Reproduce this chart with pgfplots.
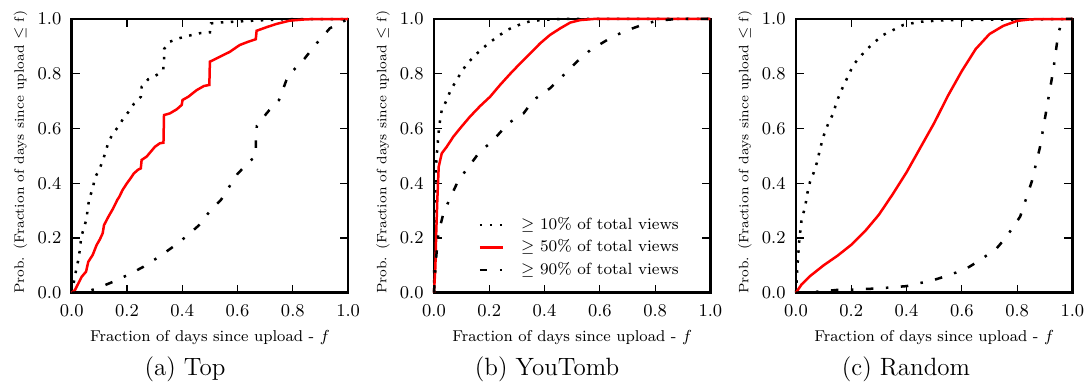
\documentclass[border=0pt]{standalone}
\usepackage{pgfplots}
\pgfplotsset{compat=1.18}
\begin{document}
\begin{tikzpicture}
\path[use as bounding box] (0,0) rectangle (544.5pt,192.5pt);
\pgfplotsset{
  cdf/.style={
    scale only axis, width=138.2pt, height=136.85pt,
    anchor=south west,
    xmin=0,xmax=1,ymin=0,ymax=1,
    xtick={0,0.2,0.4,0.6,0.8,1}, ytick={0,0.2,0.4,0.6,0.8,1},
    tick align=inside, major tick length=4pt,
    axis line style={line width=1.25pt},
    every tick/.style={black, line width=0.6pt},
    clip=false,
    tick label style={font=\fontsize{8.8}{10.5}\selectfont},
    xticklabel style={anchor=center, yshift=-9.2pt, /pgf/number format/.cd, fixed, fixed zerofill, precision=1},
    yticklabel style={anchor=east, inner sep=0pt, xshift=-5pt, /pgf/number format/.cd, fixed, fixed zerofill, precision=1},
    xlabel={Fraction of days since upload - $f$},
    ylabel={Prob. (Fraction of days since upload $\leq$ f)},
    every axis x label/.style={at={(axis description cs:0.5,-0.1765)}, anchor=base, font=\fontsize{7.85}{9.4}\selectfont},
    every axis y label/.style={at={(axis description cs:-0.1726,-0.03)}, anchor=base west, rotate=90, font=\fontsize{6.8}{8.2}\selectfont},
  },
  s10/.style={black, line width=1.25pt, dash pattern=on 1.25pt off 3.75pt},
  s50/.style={red, line width=1.25pt},
  s90/.style={black, line width=1.25pt, dash pattern=on 3.75pt off 6.25pt on 1.25pt off 6.25pt},
}
% (a) Top
\begin{axis}[cdf, at={(35.85pt,46.15pt)}]
\addplot[s10] coordinates {(0,0) (0.008,0.04) (0.016,0.083) (0.024,0.12) (0.03,0.16) (0.034,0.2) (0.042,0.23) (0.054,0.27) (0.058,0.31) (0.064,0.345) (0.076,0.38) (0.084,0.42) (0.1,0.45) (0.114,0.487) (0.124,0.52) (0.133,0.55) (0.148,0.58) (0.169,0.607) (0.187,0.637) (0.205,0.66) (0.225,0.69) (0.25,0.716) (0.253,0.752) (0.277,0.78) (0.307,0.795) (0.331,0.814) (0.334,0.85) (0.334,0.89) (0.355,0.917) (0.39,0.93) (0.428,0.94) (0.464,0.948) (0.5,0.951) (0.504,0.984) (0.536,0.987) (0.584,0.99) (0.66,0.994) (0.765,0.999) (1,1)};
\addplot[s50] coordinates {(0,0) (0.012,0.01) (0.024,0.034) (0.036,0.058) (0.052,0.077) (0.06,0.113) (0.076,0.138) (0.09,0.174) (0.102,0.195) (0.112,0.217) (0.117,0.247) (0.133,0.278) (0.15,0.308) (0.165,0.339) (0.172,0.35) (0.184,0.375) (0.2,0.4) (0.213,0.418) (0.225,0.436) (0.241,0.45) (0.25,0.454) (0.253,0.485) (0.271,0.497) (0.286,0.515) (0.301,0.533) (0.319,0.546) (0.332,0.548) (0.334,0.649) (0.355,0.655) (0.38,0.67) (0.398,0.686) (0.401,0.704) (0.422,0.716) (0.452,0.74) (0.478,0.755) (0.498,0.759) (0.5,0.844) (0.536,0.862) (0.572,0.88) (0.608,0.905) (0.639,0.917) (0.666,0.926) (0.669,0.957) (0.705,0.97) (0.741,0.982) (0.789,0.994) (0.85,0.999) (1,1)};
\addplot[s90] coordinates {(0,0) (0.05,0.003) (0.09,0.015) (0.15,0.04) (0.21,0.068) (0.26,0.095) (0.32,0.134) (0.37,0.17) (0.42,0.21) (0.46,0.246) (0.5,0.298) (0.54,0.339) (0.57,0.387) (0.6,0.434) (0.645,0.482) (0.666,0.497) (0.666,0.56) (0.67,0.61) (0.705,0.655) (0.715,0.667) (0.75,0.704) (0.777,0.777) (0.8,0.81) (0.843,0.856) (0.886,0.911) (0.934,0.966) (1,1)};
\end{axis}
% (b) YouTomb
\begin{axis}[cdf, at={(217pt,46.15pt)},
  legend cell align=left,
  legend image code/.code={\draw[#1] (0pt,0pt) -- (11.7pt,0pt);},
  legend style={at={(axis description cs:0.160,0.165)}, anchor=west, draw=none, fill=none,
    inner sep=0pt, row sep=1.05pt, column sep=7.3pt, font=\fontsize{8.1}{9.7}\selectfont,
    cells={anchor=west}, nodes={inner sep=1pt, text height=6.15pt, text depth=2.05pt}}]
\addplot[s10] coordinates {(0,0) (0.002,0.2) (0.004,0.34) (0.007,0.46) (0.012,0.53) (0.019,0.61) (0.028,0.667) (0.046,0.704) (0.06,0.74) (0.082,0.777) (0.1,0.808) (0.121,0.838) (0.149,0.868) (0.176,0.893) (0.205,0.917) (0.239,0.942) (0.269,0.962) (0.306,0.978) (0.342,0.99) (0.384,0.996) (0.457,1.0) (1,1)};
\addlegendentry{$\geq$ 10\% of total views}
\addplot[s50] coordinates {(0,0) (0.005,0.095) (0.008,0.217) (0.012,0.339) (0.017,0.46) (0.028,0.509) (0.046,0.533) (0.07,0.57) (0.094,0.6) (0.13,0.643) (0.167,0.682) (0.203,0.716) (0.239,0.759) (0.275,0.799) (0.312,0.838) (0.348,0.874) (0.384,0.911) (0.42,0.942) (0.457,0.966) (0.493,0.987) (0.529,0.996) (0.577,1) (1,1)};
\addlegendentry{$\geq$ 50\% of total views}
\addplot[s90] coordinates {(0,0) (0.007,0.12) (0.016,0.217) (0.034,0.29) (0.058,0.345) (0.088,0.41) (0.13,0.466) (0.161,0.509) (0.215,0.558) (0.269,0.619) (0.324,0.655) (0.36,0.704) (0.42,0.747) (0.469,0.795) (0.517,0.844) (0.565,0.886) (0.626,0.923) (0.686,0.954) (0.752,0.978) (0.807,0.994) (0.879,1) (1,1)};
\addlegendentry{$\geq$ 90\% of total views}
\end{axis}
% (c) Random
\begin{axis}[cdf, at={(398pt,46.15pt)}]
\addplot[s10] coordinates {(0,0) (0.005,0.095) (0.012,0.192) (0.02,0.265) (0.033,0.314) (0.041,0.363) (0.051,0.406) (0.063,0.436) (0.075,0.473) (0.089,0.533) (0.101,0.576) (0.117,0.619) (0.135,0.655) (0.147,0.698) (0.171,0.755) (0.189,0.792) (0.207,0.832) (0.232,0.862) (0.256,0.889) (0.286,0.917) (0.316,0.942) (0.352,0.96) (0.388,0.978) (0.449,0.99) (0.545,0.996) (1,1)};
\addplot[s50] coordinates {(0,0) (0.02,0.03) (0.05,0.06) (0.1,0.1) (0.15,0.135) (0.2,0.175) (0.25,0.225) (0.3,0.285) (0.35,0.36) (0.4,0.44) (0.45,0.53) (0.5,0.62) (0.55,0.72) (0.6,0.81) (0.65,0.89) (0.7,0.945) (0.75,0.975) (0.8,0.993) (0.85,0.999) (1,1)};
\addplot[s90] coordinates {(0,0) (0.087,0.004) (0.147,0.01) (0.22,0.012) (0.304,0.016) (0.4,0.024) (0.497,0.046) (0.557,0.065) (0.618,0.089) (0.666,0.119) (0.726,0.162) (0.762,0.205) (0.811,0.278) (0.853,0.406) (0.883,0.533) (0.907,0.674) (0.931,0.814) (0.949,0.948) (0.965,1) (1,1)};
\end{axis}
\node[font=\fontsize{12.5}{15}\selectfont, anchor=base] at (92.5pt,4.85pt) {(a) Top};
\node[font=\fontsize{12.5}{15}\selectfont, anchor=base] at (273.5pt,4.85pt) {(b) YouTomb};
\node[font=\fontsize{12.5}{15}\selectfont, anchor=base] at (453pt,4.85pt) {(c) Random};
\end{tikzpicture}
\end{document}
